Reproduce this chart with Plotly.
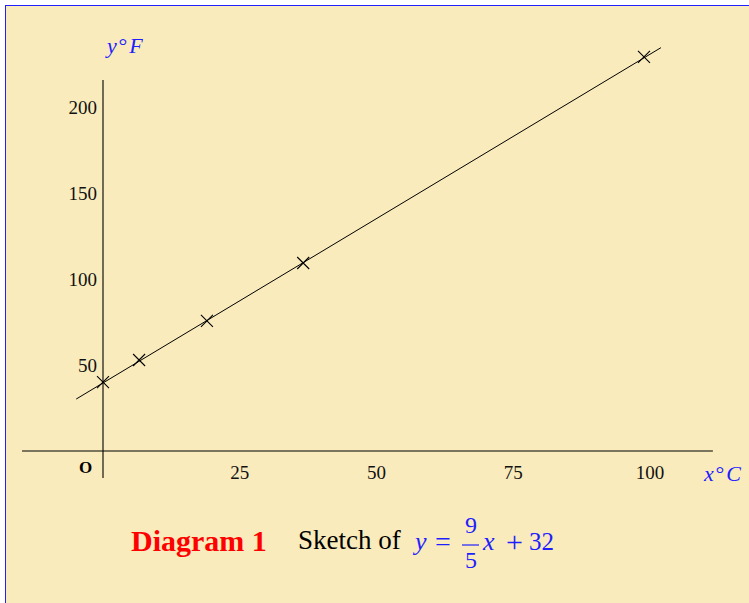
import plotly.graph_objects as go

W, H = 749, 603

# ---- data ----
celsius = [0, 6.6, 19.0, 36.6, 98.9]
fahrenheit = [40.1, 52.9, 75.6, 109.3, 229.1]
line_x = [-4.9, 102.0]
line_y = [30.2, 234.5]
x_ticks = [25, 50, 75, 100]
y_ticks = [50, 100, 150, 200]
x_axis_extent = [-14.8, 111.5]
y_axis_extent = [-15.7, 215.7]

# pixel mapping (origin at px 103 / 451)
X0, SX = 103, 5.47
Y0, SY = 451, 1.72

FONT = "Liberation Serif"
BLUE = "#1f1fff"
CREAM = "#F9EBBB"


def px(x):
    return x / W


def py(y):
    return 1 - y / H


fig = go.Figure()
fig.add_trace(go.Scatter(x=line_x, y=line_y, mode="lines",
                         line=dict(color="black", width=1), hoverinfo="skip"))
fig.add_trace(go.Scatter(x=celsius, y=fahrenheit, mode="markers",
                         marker=dict(symbol="x-thin", size=12, color="black",
                                     line=dict(color="black", width=1.1))))

shapes = [
    dict(type="rect", xref="paper", yref="paper", x0=px(5), x1=1.01, y0=-0.01, y1=py(5),
         fillcolor=CREAM, line=dict(width=0), layer="below"),
    dict(type="line", xref="paper", yref="paper", x0=px(5.5), x1=px(5.5), y0=-0.01, y1=py(5),
         line=dict(color=BLUE, width=1)),
    dict(type="line", xref="paper", yref="paper", x0=px(5), x1=1.01, y0=py(5.5), y1=py(5.5),
         line=dict(color=BLUE, width=1)),
    dict(type="line", xref="x", yref="y", x0=x_axis_extent[0], x1=x_axis_extent[1], y0=0, y1=0,
         line=dict(color="black", width=1.1)),
    dict(type="line", xref="x", yref="y", x0=0, x1=0, y0=y_axis_extent[0], y1=y_axis_extent[1],
         line=dict(color="black", width=1.1)),
    # fraction bar
    dict(type="line", xref="paper", yref="paper", x0=px(462), x1=px(479), y0=py(545), y1=py(545),
         line=dict(color=BLUE, width=1.2)),
]

annotations = [
    dict(text="<i>y</i>\u200a°\u200a<i>F</i>", x=px(124), y=py(46), font=dict(size=22, color=BLUE)),
    dict(text="<i>x</i>\u200a°\u200a<i>C</i>", x=px(722), y=py(473), font=dict(size=22, color=BLUE)),
    dict(text="<b>O</b>", x=px(85), y=py(467), font=dict(size=17, color="black")),
    dict(text="<b>Diagram 1</b>", x=px(199.5), y=py(540), font=dict(size=30, color="red")),
    dict(text="Sketch of", x=px(349), y=py(540), font=dict(size=27, color="black")),
    dict(text="<i>y</i>", x=px(419), y=py(541), font=dict(size=26, color=BLUE)),
    dict(text="=", x=px(442.5), y=py(541), font=dict(size=28, color=BLUE)),
    dict(text="9", x=px(470.5), y=py(525), font=dict(size=24, color=BLUE)),
    dict(text="5", x=px(470.5), y=py(560), font=dict(size=24, color=BLUE)),
    dict(text="<i>x</i>", x=px(488), y=py(541), font=dict(size=26, color=BLUE)),
    dict(text="+", x=px(514), y=py(541), font=dict(size=30, color=BLUE)),
    dict(text="32", x=px(541.5), y=py(541), font=dict(size=25, color=BLUE)),
]
for a in annotations:
    a.setdefault("xanchor", "center")
    a.update(xref="paper", yref="paper", yanchor="middle", showarrow=False)
    a["font"]["family"] = FONT

fig.update_layout(
    width=W, height=H,
    margin=dict(l=0, r=0, t=0, b=0),
    paper_bgcolor="white",
    plot_bgcolor="rgba(0,0,0,0)",
    showlegend=False,
    shapes=shapes,
    annotations=annotations,
    xaxis=dict(range=[(0 - X0) / SX, (W - X0) / SX], anchor="free", position=py(Y0),
               tickvals=x_ticks, ticks="", showgrid=False, zeroline=False, showline=False,
               ticklabelstandoff=8,
               tickfont=dict(family=FONT, size=19, color="#111")),
    yaxis=dict(range=[(Y0 - H) / SY, Y0 / SY], anchor="free", position=px(X0),
               tickvals=y_ticks, ticks="", showgrid=False, zeroline=False, showline=False,
               ticklabelstandoff=6,
               tickfont=dict(family=FONT, size=19, color="#111")),
)

fig.write_html("out.html", config={"displayModeBar": False},
               post_script="document.body.style.margin='0';")
